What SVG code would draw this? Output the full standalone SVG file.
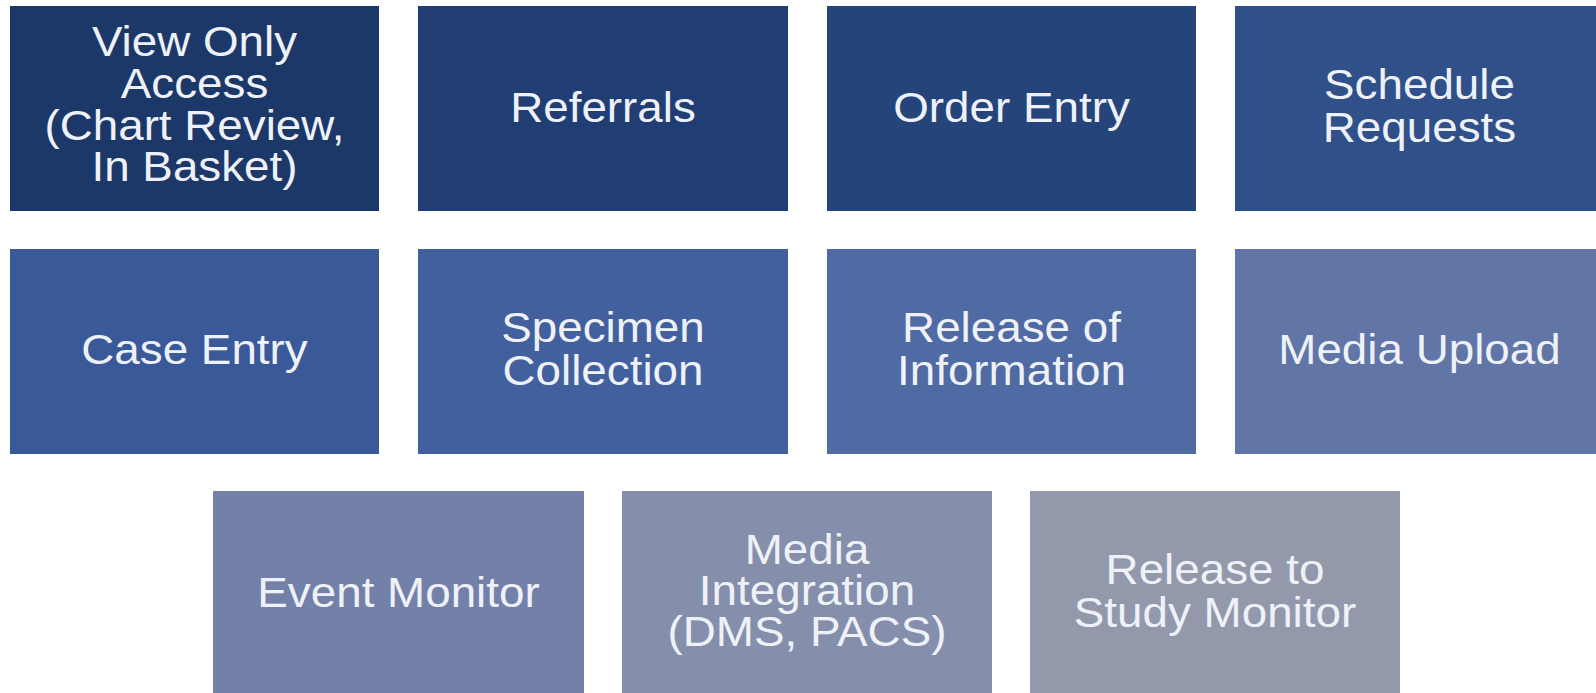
<svg xmlns="http://www.w3.org/2000/svg" width="1596" height="693" viewBox="0 0 1596 693">
<style>
.lbl{font-family:"Liberation Sans",Arial,sans-serif;font-size:42px;fill:#eef2f8;text-anchor:middle}
</style>
<rect width="1596" height="693" fill="#ffffff"/>
<g id="connectors"></g>
<g id="n1"><rect x="10" y="6" width="369" height="205" fill="#1c3868"/>
<text class="lbl" transform="translate(194.5,0) scale(1.09,1)"><tspan x="0" y="56">View Only</tspan><tspan x="0" y="98">Access</tspan><tspan x="0" y="140">(Chart Review,</tspan><tspan x="0" y="181.5">In Basket)</tspan></text></g>
<g id="n2"><rect x="418" y="6" width="370" height="205" fill="#203e73"/>
<text class="lbl" transform="translate(603,0) scale(1.09,1)"><tspan x="0" y="122.5">Referrals</tspan></text></g>
<g id="n3"><rect x="827" y="6" width="369" height="205" fill="#25447a"/>
<text class="lbl" transform="translate(1011.5,0) scale(1.09,1)"><tspan x="0" y="122.5">Order Entry</tspan></text></g>
<g id="n4"><rect x="1235" y="6" width="369" height="205" fill="#2f5089"/>
<text class="lbl" transform="translate(1419.5,0) scale(1.09,1)"><tspan x="0" y="99.5">Schedule</tspan><tspan x="0" y="142">Requests</tspan></text></g>
<g id="n5"><rect x="10" y="249" width="369" height="205" fill="#395999"/>
<text class="lbl" transform="translate(194.5,0) scale(1.09,1)"><tspan x="0" y="364.5">Case Entry</tspan></text></g>
<g id="n6"><rect x="418" y="249" width="370" height="205" fill="#42609d"/>
<text class="lbl" transform="translate(603,0) scale(1.09,1)"><tspan x="0" y="341.8">Specimen</tspan><tspan x="0" y="385.3">Collection</tspan></text></g>
<g id="n7"><rect x="827" y="249" width="369" height="205" fill="#506aa3"/>
<text class="lbl" transform="translate(1011.5,0) scale(1.09,1)"><tspan x="0" y="341.8">Release of</tspan><tspan x="0" y="385.3">Information</tspan></text></g>
<g id="n8"><rect x="1235" y="249" width="369" height="205" fill="#6175a6"/>
<text class="lbl" transform="translate(1419.5,0) scale(1.09,1)"><tspan x="0" y="364.5">Media Upload</tspan></text></g>
<g id="n9"><rect x="213" y="491" width="371" height="205" fill="#7380a8"/>
<text class="lbl" transform="translate(398.5,0) scale(1.09,1)"><tspan x="0" y="607.5">Event Monitor</tspan></text></g>
<g id="n10"><rect x="622" y="491" width="370" height="205" fill="#858fab"/>
<text class="lbl" transform="translate(807,0) scale(1.09,1)"><tspan x="0" y="564.5">Media</tspan><tspan x="0" y="605.5">Integration</tspan><tspan x="0" y="646.5">(DMS, PACS)</tspan></text></g>
<g id="n11"><rect x="1030" y="491" width="370" height="205" fill="#9399ab"/>
<text class="lbl" transform="translate(1215,0) scale(1.09,1)"><tspan x="0" y="584.5">Release to</tspan><tspan x="0" y="627.5">Study Monitor</tspan></text></g>
</svg>
